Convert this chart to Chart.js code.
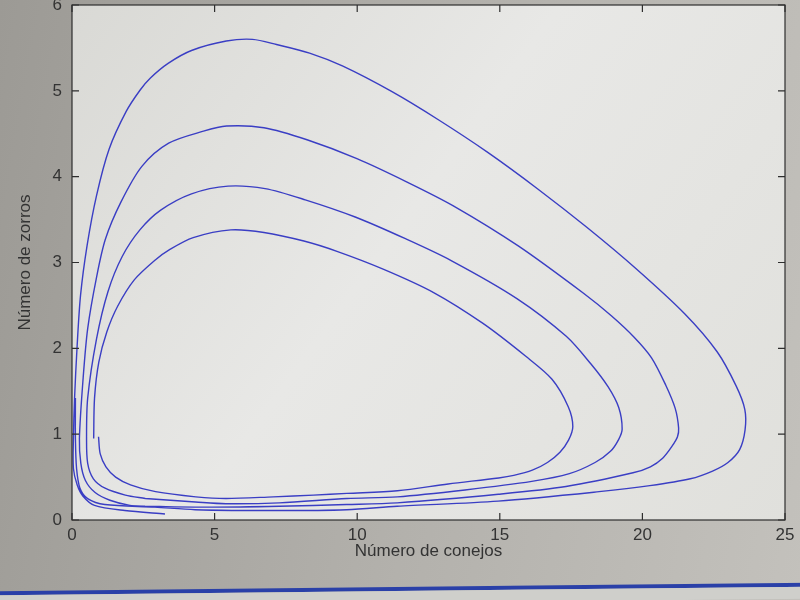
<!DOCTYPE html>
<html lang="es">
<head>
<meta charset="utf-8">
<title>Conejos y zorros</title>
<script src="https://cdn.jsdelivr.net/npm/chart.js@4.4.1/dist/chart.umd.min.js"></script>
<style>
  html, body { margin: 0; padding: 0; }
  body {
    width: 800px; height: 600px; overflow: hidden; position: relative;
    background: linear-gradient(100deg, #9c9a95 0%, #b3b1ac 55%, #c3c1bc 100%);
  }
  #wrap { position: absolute; left: 0; top: 0; width: 800px; height: 600px; }
  .barra { position: absolute; left: -10px; width: 820px; transform: rotate(-0.6deg); }
  #azul { top: 587px; height: 4px; background: #2a40a8; }
  #gris { top: 591px; height: 12px; background: #cfcfcb; }
</style>
</head>
<body>
<div id="wrap"><canvas id="chartOrbitas" width="800" height="600"></canvas></div>
<div class="barra" id="azul"></div>
<div class="barra" id="gris"></div>
<script>
// ── Datos: cuatro trayectorias (conejos, zorros) ──
const conejos1 = [0.12, 0.12, 0.16, 0.28, 0.55, 1.15, 2.91, 4.32, 7.26, 9.63, 11.40, 14.94, 18.48, 20.26, 21.68, 22.46, 23.00, 23.41, 23.60, 23.59, 23.29, 22.62, 21.49, 19.77, 18.05, 16.32, 14.59, 12.86, 11.22, 9.48, 8.33, 7.17, 6.33, 5.41, 4.19, 3.37, 2.75, 2.39, 1.90, 1.30, 0.86, 0.53, 0.30, 0.18, 0.09, 0.05, 0.05, 0.18, 0.38, 0.79, 1.85, 3.26];
const zorros1  = [1.42, 0.95, 0.60, 0.37, 0.25, 0.18, 0.15, 0.12, 0.11, 0.12, 0.16, 0.22, 0.33, 0.40, 0.48, 0.57, 0.67, 0.82, 1.05, 1.29, 1.56, 1.96, 2.40, 2.93, 3.41, 3.86, 4.28, 4.66, 4.99, 5.29, 5.44, 5.54, 5.60, 5.58, 5.47, 5.32, 5.15, 5.01, 4.76, 4.32, 3.78, 3.20, 2.62, 2.03, 1.42, 0.95, 0.60, 0.41, 0.28, 0.17, 0.11, 0.07];

const conejos2 = [2.56, 4.93, 7.26, 9.63, 11.40, 14.95, 17.32, 19.67, 20.28, 20.71, 21.04, 21.23, 21.27, 21.15, 20.82, 20.32, 19.71, 18.91, 17.98, 15.66, 13.37, 11.73, 9.99, 8.24, 6.73, 5.42, 4.61, 3.39, 2.45, 1.71, 1.17, 0.85, 0.55, 0.39, 0.26, 0.31, 0.47, 0.81, 1.33, 2.03, 2.56];
const zorros2  = [0.16, 0.15, 0.16, 0.18, 0.20, 0.30, 0.39, 0.55, 0.62, 0.72, 0.86, 0.97, 1.07, 1.30, 1.57, 1.89, 2.13, 2.38, 2.63, 3.19, 3.66, 3.94, 4.21, 4.43, 4.57, 4.59, 4.53, 4.39, 4.12, 3.70, 3.27, 2.81, 2.23, 1.65, 0.95, 0.66, 0.46, 0.32, 0.23, 0.17, 0.16];

const conejos3 = [2.57, 4.33, 5.39, 7.27, 9.64, 11.41, 13.78, 16.12, 17.44, 18.34, 18.88, 19.17, 19.29, 19.17, 18.80, 18.19, 17.33, 15.60, 13.31, 11.67, 9.93, 8.18, 6.77, 5.47, 4.19, 3.11, 2.38, 1.76, 1.26, 0.86, 0.55, 0.51, 0.55, 0.75, 1.16, 1.87, 2.57];
const zorros3  = [0.25, 0.21, 0.19, 0.20, 0.25, 0.27, 0.35, 0.45, 0.54, 0.67, 0.80, 0.94, 1.06, 1.31, 1.55, 1.82, 2.14, 2.58, 3.02, 3.28, 3.53, 3.73, 3.86, 3.89, 3.80, 3.61, 3.38, 3.07, 2.66, 2.11, 1.42, 0.95, 0.66, 0.48, 0.37, 0.29, 0.25];

const conejos4 = [0.93, 0.99, 1.19, 1.53, 2.05, 2.93, 4.34, 5.40, 7.06, 8.47, 9.64, 11.41, 13.19, 14.96, 15.49, 16.14, 16.67, 17.11, 17.41, 17.56, 17.40, 16.83, 15.90, 14.41, 12.68, 10.93, 9.29, 8.13, 6.73, 5.57, 4.25, 3.42, 2.92, 2.19, 1.60, 1.22, 0.94, 0.79, 0.76];
const zorros4  = [0.97, 0.77, 0.62, 0.50, 0.41, 0.33, 0.27, 0.25, 0.27, 0.29, 0.31, 0.34, 0.42, 0.49, 0.52, 0.58, 0.67, 0.79, 0.93, 1.09, 1.32, 1.64, 1.91, 2.29, 2.65, 2.92, 3.13, 3.25, 3.35, 3.38, 3.29, 3.15, 3.03, 2.80, 2.49, 2.19, 1.84, 1.42, 0.95];

const xTicks = [0, 5, 10, 15, 20, 25];
const yTicks = [0, 1, 2, 3, 4, 5, 6];

const LINE_COLOR = '#3a3ec4';
const TEXT_COLOR = '#333333';
const FONT = { family: '"Liberation Sans", Arial, sans-serif', size: 17 };

const trayectorias = [
  [conejos1, zorros1],
  [conejos2, zorros2],
  [conejos3, zorros3],
  [conejos4, zorros4]
];

const datasets = trayectorias.map(([xs, ys], i) => ({
  label: 'Órbita ' + (i + 1),
  data: xs.map((x, k) => ({ x, y: ys[k] })),
  showLine: true,
  borderColor: LINE_COLOR,
  borderWidth: 1.4,
  pointRadius: 0,
  tension: 0.3,
  fill: false
}));

// ── Fondo del área, marco y marcas hacia dentro (estilo MATLAB) ──
const marcoPlugin = {
  id: 'marco',
  beforeDraw(chart) {
    const { ctx, chartArea: a } = chart;
    ctx.save();
    const g = ctx.createLinearGradient(a.left, a.top, a.right, a.bottom);
    g.addColorStop(0, '#d9d9d5');
    g.addColorStop(0.45, '#e8e8e6');
    g.addColorStop(1, '#e0e0dc');
    ctx.fillStyle = g;
    ctx.fillRect(a.left, a.top, a.right - a.left, a.bottom - a.top);
    ctx.restore();
  },
  afterDraw(chart) {
    const { ctx, chartArea: a, scales } = chart;
    const len = 7;
    ctx.save();
    ctx.strokeStyle = '#2e2e2e';
    ctx.lineWidth = 1.2;
    ctx.strokeRect(a.left, a.top, a.right - a.left, a.bottom - a.top);
    ctx.beginPath();
    xTicks.forEach(v => {
      const px = scales.x.getPixelForValue(v);
      ctx.moveTo(px, a.bottom); ctx.lineTo(px, a.bottom - len);
      ctx.moveTo(px, a.top);    ctx.lineTo(px, a.top + len);
    });
    yTicks.forEach(v => {
      const py = scales.y.getPixelForValue(v);
      ctx.moveTo(a.left, py);  ctx.lineTo(a.left + len, py);
      ctx.moveTo(a.right, py); ctx.lineTo(a.right - len, py);
    });
    ctx.stroke();
    ctx.restore();
  }
};

new Chart(document.getElementById('chartOrbitas').getContext('2d'), {
  type: 'scatter',
  data: { datasets },
  plugins: [marcoPlugin],
  options: {
    responsive: false,
    animation: false,
    layout: { padding: { left: 15, right: 15, top: 5, bottom: 0 } },
    plugins: {
      legend: { display: false },
      tooltip: { enabled: false }
    },
    scales: {
      x: {
        type: 'linear',
        min: 0, max: 25,
        afterBuildTicks: s => { s.ticks = xTicks.map(v => ({ value: v })); },
        ticks: { color: TEXT_COLOR, font: FONT, padding: 5, maxRotation: 0 },
        grid: { display: false, drawTicks: false },
        border: { display: false },
        title: {
          display: true, text: 'Número de conejos', color: TEXT_COLOR, font: FONT,
          padding: { top: 0, bottom: 38 }
        },
        afterFit: s => { s.height = 80; s.paddingLeft = 0; s.paddingRight = 0; }
      },
      y: {
        type: 'linear',
        min: 0, max: 6,
        afterBuildTicks: s => { s.ticks = yTicks.map(v => ({ value: v })); },
        ticks: { color: TEXT_COLOR, font: FONT, padding: 10 },
        grid: { display: false, drawTicks: false },
        border: { display: false },
        title: {
          display: true, text: 'Número de zorros', color: TEXT_COLOR, font: FONT,
          padding: { top: 0, bottom: 0 }
        },
        afterFit: s => { s.width = 57; s.paddingTop = 0; s.paddingBottom = 0; }
      }
    }
  }
});
</script>
</body>
</html>
